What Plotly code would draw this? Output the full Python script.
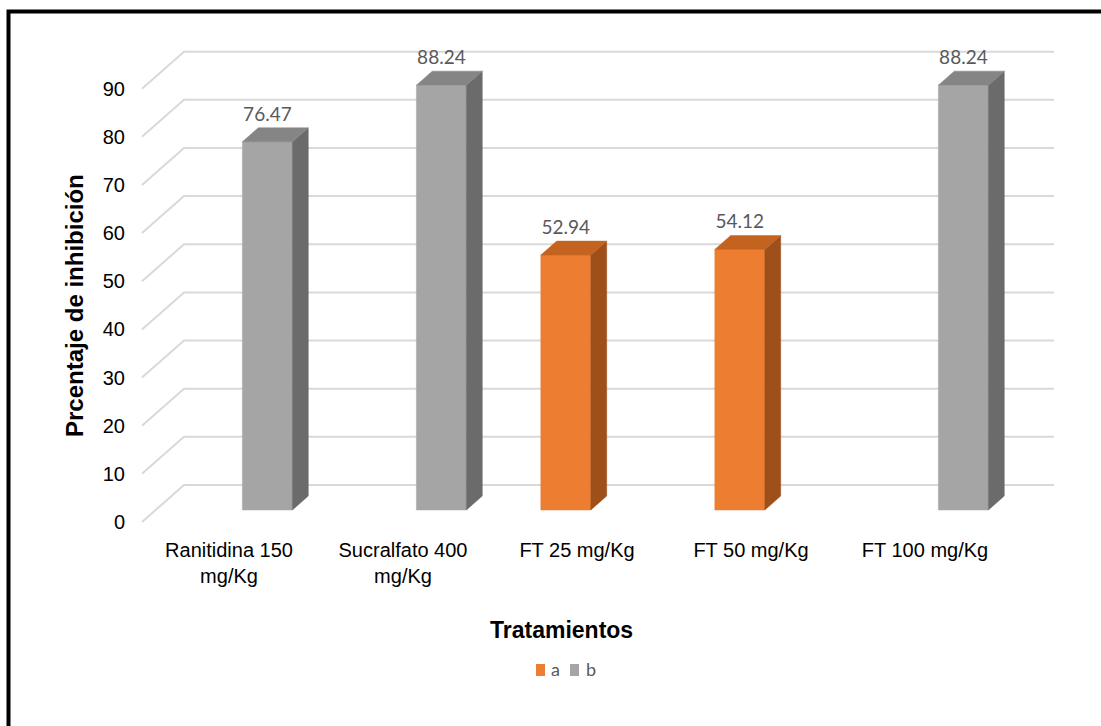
import plotly.graph_objects as go

# --- data -----------------------------------------------------------------
categories = [
    "Ranitidina 150<br>mg/Kg",
    "Sucralfato 400<br>mg/Kg",
    "FT 25 mg/Kg",
    "FT 50 mg/Kg",
    "FT 100 mg/Kg",
]
serie_a = [None, None, 52.94, 54.12, None]
serie_b = [76.47, 88.24, None, None, 88.24]
y_ticks = [0, 10, 20, 30, 40, 50, 60, 70, 80, 90]
series_names = ["a", "b"]

# --- geometry -------------------------------------------------------------
W, H = 1101, 726
L, R, T, B = 130, 1070, 40, 530          # plot area in pixels
FRONT_LEFT_PX = 142                      # pixel of the front edge (x = -0.5)
PX_PER_CAT = 174.0
ZERO_PX = 522                            # pixel of value 0 on the front edge
PX_PER_VAL = 4.815

x_range = [-0.5 + (L - FRONT_LEFT_PX) / PX_PER_CAT, -0.5 + (R - FRONT_LEFT_PX) / PX_PER_CAT]
y_range = [(ZERO_PX - B) / PX_PER_VAL, (ZERO_PX - T) / PX_PER_VAL]

# 3-D depth of the back wall, in axis units
DX = 42 / PX_PER_CAT
DY = 37 / PX_PER_VAL
F_FRONT = 0.324      # depth fraction where the bar faces sit
F_DEPTH = 0.378      # depth fraction taken by a bar
HALF_W = 0.1437      # half bar width (category units)
SLOT = 0.1425        # offset of series a / b within a category

GRID = "#D9D9D9"
COLORS = {
    "a": ("#ED7D31", "#9E4F1A", "#C4621F"),   # front, side, top
    "b": ("#A5A5A5", "#6B6B6B", "#858585"),
}
FONT = "Liberation Sans, Arial, sans-serif"
LABEL_FONT = "Lato, Carlito, sans-serif"

fig = go.Figure()

# back wall and side wall gridlines
n = len(categories)
gx, gy = [], []
for v in y_ticks:
    gx += [-0.5, -0.5 + DX, n - 0.5 + DX, None]
    gy += [v, v + DY, v + DY, None]
fig.add_trace(go.Scatter(x=gx, y=gy, mode="lines", line=dict(color=GRID, width=2),
                         hoverinfo="skip", showlegend=False))

# bars
bdx, bdy = F_DEPTH * DX, F_DEPTH * DY
lab_x, lab_y, lab_t = [], [], []
for name, values, off in ((series_names[0], serie_a, -SLOT), (series_names[1], serie_b, SLOT)):
    front, side, top = COLORS[name]
    for i, v in enumerate(values):
        if v is None:
            continue
        x0 = i + off - HALF_W + F_FRONT * DX
        x1 = i + off + HALF_W + F_FRONT * DX
        y0 = F_FRONT * DY
        y1 = v + F_FRONT * DY
        faces = [
            ([x0, x1, x1, x0, x0], [y0, y0, y1, y1, y0], front),
            ([x1, x1 + bdx, x1 + bdx, x1, x1], [y0, y0 + bdy, y1 + bdy, y1, y0], side),
            ([x0, x1, x1 + bdx, x0 + bdx, x0], [y1, y1, y1 + bdy, y1 + bdy, y1], top),
        ]
        for fx, fy, c in faces:
            fig.add_trace(go.Scatter(x=fx, y=fy, mode="lines", fill="toself", fillcolor=c,
                                     line=dict(color=c, width=0.5), hoverinfo="skip",
                                     showlegend=False))
        lab_x.append((x0 + x1) / 2)
        lab_y.append(y1 + bdy + 2.5)
        lab_t.append(f"{v:.2f}")

fig.add_trace(go.Scatter(x=lab_x, y=lab_y, text=lab_t, mode="text", cliponaxis=False,
                         textfont=dict(family=LABEL_FONT, size=19, color="#595959"),
                         hoverinfo="skip", showlegend=False))


def px(x):
    return (x - L) / (R - L)


def py(y):
    return (B - y) / (B - T)


annotations = [
    dict(text="<b>Tratamientos</b>", x=px(561), y=py(630), xref="paper", yref="paper",
         xanchor="center", yanchor="middle", showarrow=False,
         font=dict(family=FONT, size=23, color="#000000")),
    dict(text="<b>Prcentaje de inhibición</b>", x=px(74), y=py(306), xref="paper", yref="paper",
         xanchor="center", yanchor="middle", showarrow=False, textangle=-90,
         font=dict(family=FONT, size=24, color="#000000")),
    dict(text="a", x=px(549), y=py(669), xref="paper", yref="paper",
         xanchor="left", yanchor="middle", showarrow=False,
         font=dict(family=LABEL_FONT, size=18, color="#595959")),
    dict(text="b", x=px(584), y=py(669), xref="paper", yref="paper",
         xanchor="left", yanchor="middle", showarrow=False,
         font=dict(family=LABEL_FONT, size=18, color="#595959")),
]

shapes = [
    # legend keys
    dict(type="rect", xref="paper", yref="paper", x0=px(536), x1=px(545), y0=py(676), y1=py(664),
         fillcolor=COLORS["a"][0], line=dict(width=0)),
    dict(type="rect", xref="paper", yref="paper", x0=px(570), x1=px(579), y0=py(676), y1=py(664),
         fillcolor=COLORS["b"][0], line=dict(width=0)),
    # frame
    dict(type="path", xref="paper", yref="paper",
         path=f"M {px(8.5)} {py(H + 5)} L {px(8.5)} {py(11.5)} L {px(W + 5)} {py(11.5)}",
         line=dict(color="#000000", width=4)),
]

fig.update_layout(
    width=W, height=H,
    margin=dict(l=L, r=W - R, t=T, b=H - B, pad=0),
    paper_bgcolor="white", plot_bgcolor="white",
    showlegend=False,
    annotations=annotations,
    shapes=shapes,
    xaxis=dict(range=x_range, tickvals=list(range(n)), ticktext=categories,
               showgrid=False, zeroline=False, showline=False, ticks="",
               ticklabelstandoff=6,
               tickfont=dict(family=FONT, size=20, color="#000000"), fixedrange=True),
    yaxis=dict(range=y_range, tickvals=y_ticks, showgrid=False, zeroline=False,
               showline=False, ticks="", ticklabelstandoff=4,
               tickfont=dict(family=FONT, size=20, color="#000000"), fixedrange=True),
)

fig.write_html("out.html", config={"displayModeBar": False})
